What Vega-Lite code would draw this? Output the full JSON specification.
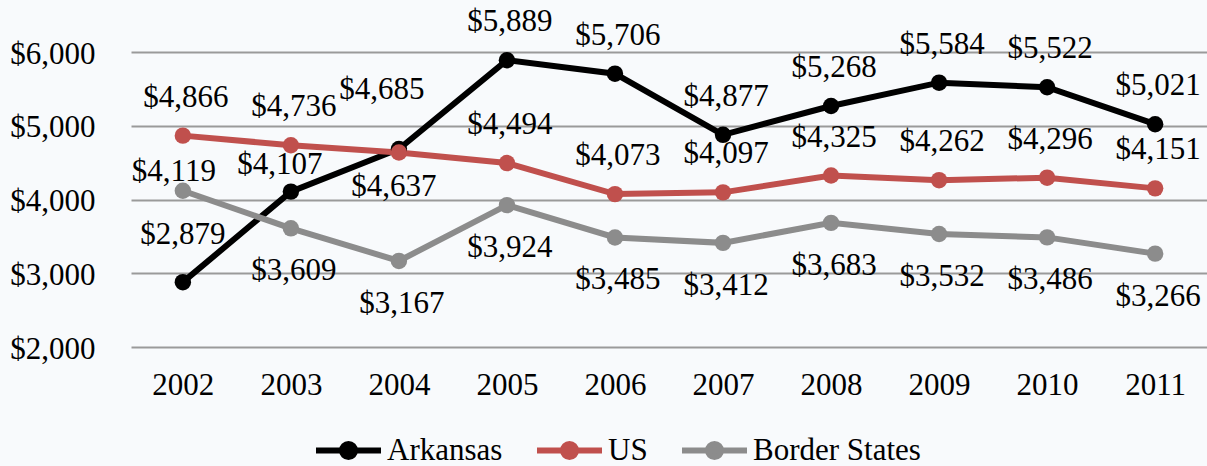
{
  "$schema": "https://vega.github.io/schema/vega-lite/v6.json",
  "width": 1076,
  "height": 295,
  "autosize": {"type": "none"},
  "padding": {"left": 131, "top": 52, "right": 0, "bottom": 119},
  "background": "#f8fafc",
  "config": {
    "view": {"stroke": null}
  },
  "data": {
    "values": [
      {"year": 2002, "series": "Arkansas", "value": 2879},
      {"year": 2003, "series": "Arkansas", "value": 4107},
      {"year": 2004, "series": "Arkansas", "value": 4685},
      {"year": 2005, "series": "Arkansas", "value": 5889},
      {"year": 2006, "series": "Arkansas", "value": 5706},
      {"year": 2007, "series": "Arkansas", "value": 4877},
      {"year": 2008, "series": "Arkansas", "value": 5268},
      {"year": 2009, "series": "Arkansas", "value": 5584},
      {"year": 2010, "series": "Arkansas", "value": 5522},
      {"year": 2011, "series": "Arkansas", "value": 5021},
      {"year": 2002, "series": "US", "value": 4866},
      {"year": 2003, "series": "US", "value": 4736},
      {"year": 2004, "series": "US", "value": 4637},
      {"year": 2005, "series": "US", "value": 4494},
      {"year": 2006, "series": "US", "value": 4073},
      {"year": 2007, "series": "US", "value": 4097},
      {"year": 2008, "series": "US", "value": 4325},
      {"year": 2009, "series": "US", "value": 4262},
      {"year": 2010, "series": "US", "value": 4296},
      {"year": 2011, "series": "US", "value": 4151},
      {"year": 2002, "series": "Border States", "value": 4119},
      {"year": 2003, "series": "Border States", "value": 3609},
      {"year": 2004, "series": "Border States", "value": 3167},
      {"year": 2005, "series": "Border States", "value": 3924},
      {"year": 2006, "series": "Border States", "value": 3485},
      {"year": 2007, "series": "Border States", "value": 3412},
      {"year": 2008, "series": "Border States", "value": 3683},
      {"year": 2009, "series": "Border States", "value": 3532},
      {"year": 2010, "series": "Border States", "value": 3486},
      {"year": 2011, "series": "Border States", "value": 3266}
    ]
  },
  "encoding": {
    "x": {
      "field": "year", "type": "ordinal",
      "scale": {"type": "point", "padding": 0.48},
      "axis": {"title": null, "domain": false, "ticks": false, "tickSize": 0, "labelAngle": 0,
               "labelFont": "Liberation Serif", "labelFontSize": 31, "labelColor": "#000000",
               "labelPadding": 47, "labelBaseline": "alphabetic", "grid": false}
    },
    "y": {
      "field": "value", "type": "quantitative",
      "scale": {"domain": [2000, 6000], "nice": false, "zero": false},
      "axis": {"title": null, "domain": false, "ticks": false, "tickSize": 0, "values": [2000, 3000, 4000, 5000, 6000],
               "labelFont": "Liberation Serif", "labelFontSize": 31, "labelColor": "#000000",
               "format": "$,.0f", "labelPadding": 36, "labelBaseline": "middle", "labelOffset": 2,
               "grid": true, "gridColor": "#9a9a9a", "gridWidth": 2.2}
    }
  },
  "layer": [
    {
      "mark": {"type": "line", "strokeWidth": 6},
      "encoding": {
        "color": {
          "field": "series", "type": "nominal",
          "scale": {"domain": ["Arkansas", "US", "Border States"], "range": ["#000000", "#c0504d", "#8c8c8c"]},
          "legend": {
            "title": null, "orient": "none", "direction": "horizontal", "legendX": 182, "legendY": 363,
            "symbolType": "M -1 0 L 1 0 M -0.2 0 A 0.2 0.2 0 1 1 0.2 0 A 0.2 0.2 0 1 1 -0.2 0 Z",
            "symbolSize": 4225, "symbolStrokeWidth": 6,
            "labelFont": "Liberation Serif", "labelFontSize": 31, "labelColor": "#000000",
            "labelOffset": 3, "columnPadding": 22, "labelLimit": 500,
            "encode": {"symbols": {"update": {"fill": {"scale": "color", "field": "value"}, "stroke": {"scale": "color", "field": "value"}, "opacity": {"value": 1}}}}
          }
        }
      }
    },
    {
      "mark": {"type": "point", "filled": true, "size": 270, "opacity": 1},
      "encoding": {
        "color": {"field": "series", "type": "nominal", "legend": null}
      }
    },
    {
      "transform": [{"filter": "datum.series !== 'Border States' && !(datum.series === 'US' && datum.year === 2004) && !(datum.series === 'Arkansas' && datum.year <= 2004)"}],
      "mark": {"type": "text", "font": "Liberation Serif", "fontSize": 31, "color": "#000000", "baseline": "middle", "dx": 3, "dy": -38},
      "encoding": {"text": {"field": "value", "type": "quantitative", "format": "$,.0f"}}
    },
    {
      "transform": [{"filter": "datum.series === 'Arkansas' && datum.year === 2002"}],
      "mark": {"type": "text", "font": "Liberation Serif", "fontSize": 31, "color": "#000000", "baseline": "middle", "dx": 0, "dy": -47},
      "encoding": {"text": {"field": "value", "type": "quantitative", "format": "$,.0f"}}
    },
    {
      "transform": [{"filter": "datum.series === 'Arkansas' && datum.year === 2003"}],
      "mark": {"type": "text", "font": "Liberation Serif", "fontSize": 31, "color": "#000000", "baseline": "middle", "dx": -11, "dy": -27},
      "encoding": {"text": {"field": "value", "type": "quantitative", "format": "$,.0f"}}
    },
    {
      "transform": [{"filter": "datum.series === 'Arkansas' && datum.year === 2004"}],
      "mark": {"type": "text", "font": "Liberation Serif", "fontSize": 31, "color": "#000000", "baseline": "middle", "dx": -17, "dy": -59},
      "encoding": {"text": {"field": "value", "type": "quantitative", "format": "$,.0f"}}
    },
    {
      "transform": [{"filter": "datum.series === 'US' && datum.year === 2004"}],
      "mark": {"type": "text", "font": "Liberation Serif", "fontSize": 31, "color": "#000000", "baseline": "middle", "dx": -5, "dy": 34},
      "encoding": {"text": {"field": "value", "type": "quantitative", "format": "$,.0f"}}
    },
    {
      "transform": [{"filter": "datum.series === 'Border States' && datum.year === 2002"}],
      "mark": {"type": "text", "font": "Liberation Serif", "fontSize": 31, "color": "#000000", "baseline": "middle", "dx": -9, "dy": -19},
      "encoding": {"text": {"field": "value", "type": "quantitative", "format": "$,.0f"}}
    },
    {
      "transform": [{"filter": "datum.series === 'Border States' && datum.year !== 2002"}],
      "mark": {"type": "text", "font": "Liberation Serif", "fontSize": 31, "color": "#000000", "baseline": "middle", "dx": 3, "dy": 43},
      "encoding": {"text": {"field": "value", "type": "quantitative", "format": "$,.0f"}}
    }
  ]
}
